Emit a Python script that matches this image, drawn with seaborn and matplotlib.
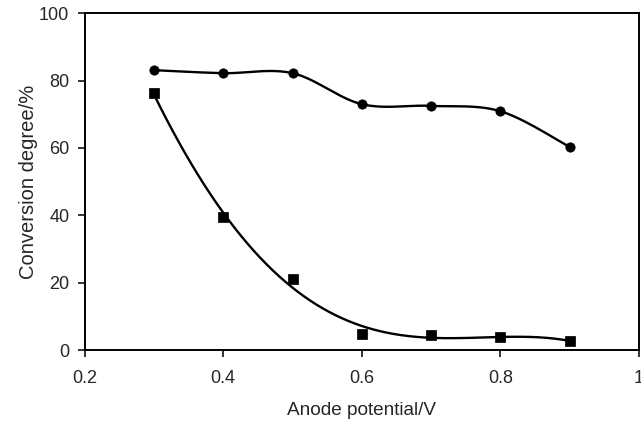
import numpy as np
import pandas as pd
import matplotlib
matplotlib.use("Agg")
import matplotlib.pyplot as plt
import seaborn as sns

# data
potential = [0.3, 0.4, 0.5, 0.6, 0.7, 0.8, 0.9]
conv_circle = [83.1, 82.2, 82.2, 73.0, 72.5, 70.9, 60.3]
conv_square = [76.2, 39.4, 21.2, 4.8, 4.6, 3.9, 2.7]
x_ticks = [0.2, 0.4, 0.6, 0.8, 1.0]
x_tick_labels = ["0.2", "0.4", "0.6", "0.8", "1"]
y_ticks = [0, 20, 40, 60, 80, 100]

sns.set_style("ticks")
plt.rcParams['font.family'] = ['Liberation Sans', 'DejaVu Sans']


def smooth_line(xs, ys, n=40):
    # excel style smoothed line (bezier through points)
    pts = np.column_stack([xs, ys]).astype(float)
    out = []
    for i in range(len(pts) - 1):
        p0 = pts[max(i - 1, 0)]
        p1 = pts[i]
        p2 = pts[i + 1]
        p3 = pts[min(i + 2, len(pts) - 1)]
        c1 = p1 + (p2 - p0) / 6
        c2 = p2 - (p3 - p1) / 6
        t = np.linspace(0, 1, n)[:, None]
        seg = (1 - t) ** 3 * p1 + 3 * (1 - t) ** 2 * t * c1 + 3 * (1 - t) * t ** 2 * c2 + t ** 3 * p2
        out.append(seg if i == 0 else seg[1:])
    out = np.vstack(out)
    return out[:, 0], out[:, 1]


sx, sy = smooth_line(potential, conv_circle)
df_circle_line = pd.DataFrame({"x": sx, "y": sy})

# polynomial trend line for the square series
coef = np.polyfit(potential, conv_square, 4)
tx = np.linspace(potential[0], potential[-1], 200)
df_square_line = pd.DataFrame({"x": tx, "y": np.polyval(coef, tx)})

df_pts = pd.DataFrame({"x": potential, "circle": conv_circle, "square": conv_square})

fig = plt.figure(figsize=(6.41, 4.25), dpi=100)
ax = fig.add_axes([0.132, 0.176, 0.865, 0.793])

sns.lineplot(data=df_circle_line, x="x", y="y", ax=ax, color="black", lw=1.7,
             estimator=None, sort=False)
sns.lineplot(data=df_square_line, x="x", y="y", ax=ax, color="black", lw=1.7,
             estimator=None, sort=False)
sns.scatterplot(data=df_pts, x="x", y="circle", ax=ax, marker="o", s=45,
                color="black", edgecolor="black", zorder=5)
sns.scatterplot(data=df_pts, x="x", y="square", ax=ax, marker="s", s=42,
                color="black", edgecolor="black", zorder=5)

ax.set_xlim(0.2, 1.0)
ax.set_ylim(0, 100)
ax.set_xticks(x_ticks)
ax.set_xticklabels(x_tick_labels)
ax.set_yticks(y_ticks)
ax.tick_params(direction="out", length=5, width=1.3, labelsize=13)
ax.tick_params(axis="x", pad=9)
ax.tick_params(axis="y", pad=6)
for s in ax.spines.values():
    s.set_linewidth(1.4)
    s.set_color("black")
    s.set_visible(True)

ax.set_xlabel("Anode potential/V", fontsize=13.7, labelpad=11)
ax.set_ylabel("Conversion degree/%", fontsize=14.5, labelpad=1)

fig.savefig("out.png", dpi=100)
